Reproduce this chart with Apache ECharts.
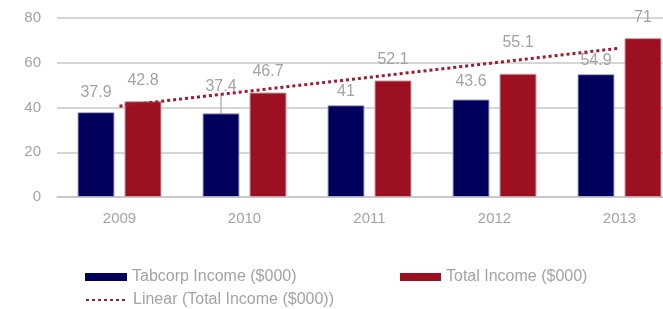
<!DOCTYPE html>
<html>
<head>
<meta charset="utf-8">
<script src="https://cdn.jsdelivr.net/npm/echarts@6/dist/echarts.min.js"></script>
<style>
  html, body { margin: 0; padding: 0; background: #fff; }
  #chart { width: 663px; height: 309px; }
</style>
</head>
<body>
<div id="chart"></div>
<script>
const years = ["2009", "2010", "2011", "2012", "2013"];
const tabcorpIncome = [37.9, 37.4, 41, 43.6, 54.9];
const totalIncome = [42.8, 46.7, 52.1, 55.1, 71];
const linearTotal = [40.6, 47.1, 53.5, 60.0, 66.5];
const yTicks = [0, 20, 40, 60, 80];

const textGrey = "#a3a3a3";
const font = "Liberation Sans";

const legendText = { color: textGrey, fontSize: 16, fontFamily: font };

const chart = echarts.init(document.getElementById("chart"));
const option = {
  animation: false,
  textStyle: { fontFamily: font },
  grid: { left: 57, right: -19, top: 18, height: 179, outerBoundsMode: "none", containLabel: false },
  legend: [
    {
      data: [{ name: "Tabcorp Income ($000)", icon: "rect" }],
      left: 85, top: 269, padding: 0,
      itemWidth: 42, itemHeight: 8,
      itemStyle: { borderWidth: 0 },
      textStyle: legendText
    },
    {
      data: [{ name: "Total Income ($000)", icon: "rect" }],
      left: 400, top: 269, padding: 0,
      itemWidth: 41, itemHeight: 8,
      itemStyle: { borderWidth: 0 },
      textStyle: legendText
    },
    {
      data: ["Linear (Total Income ($000))"],
      left: 85, top: 292, padding: 0,
      itemWidth: 42, itemHeight: 8,
      itemStyle: { opacity: 0 },
      textStyle: legendText
    }
  ],
  xAxis: {
    type: "category",
    data: years,
    axisLine: { lineStyle: { color: "#c4c4c4", width: 1.5 } },
    axisTick: { show: false },
    axisLabel: { color: textGrey, fontSize: 15, margin: 14 }
  },
  yAxis: {
    type: "value",
    min: yTicks[0],
    max: yTicks[yTicks.length - 1],
    interval: 20,
    axisLine: { show: false },
    axisTick: { show: false },
    axisLabel: { color: textGrey, fontSize: 15, margin: 16 },
    splitLine: { lineStyle: { color: "#c8c8c8", width: 1.5 } }
  },
  series: [
    {
      name: "Tabcorp Income ($000)",
      type: "bar",
      data: tabcorpIncome.map((v, i) => ({
        value: v,
        label: { distance: i === 0 ? 12 : (i === 3 ? 10 : 6) },
        labelLine: { show: i === 1, lineStyle: { color: "#b5b5b5", width: 1.5 } }
      })),
      barWidth: 37,
      barGap: "27%",
      itemStyle: { color: "#00005c", borderColor: "#a9a9c4", borderWidth: 1 },
      label: { show: true, position: "top", color: textGrey, fontSize: 16 },
      // 2010 label sits higher with a short leader line, like the original
      labelLayout: (p) => (p.dataIndex === 1 ? { dy: -13 } : {})
    },
    {
      name: "Total Income ($000)",
      type: "bar",
      data: totalIncome.map((v, i) => ({
        value: v,
        label: { distance: i === 3 ? 23 : 13 }
      })),
      barWidth: 37,
      itemStyle: { color: "#9c1021", borderColor: "#c7a0a6", borderWidth: 1 },
      label: { show: true, position: "top", color: textGrey, fontSize: 16 }
    },
    {
      name: "Linear (Total Income ($000))",
      type: "line",
      data: linearTotal,
      symbol: "none",
      z: 5,
      itemStyle: { color: "#a3192d" },
      lineStyle: { color: "#a3192d", width: 3, type: [3, 3] }
    }
  ]
};
chart.setOption(option);
</script>
</body>
</html>
